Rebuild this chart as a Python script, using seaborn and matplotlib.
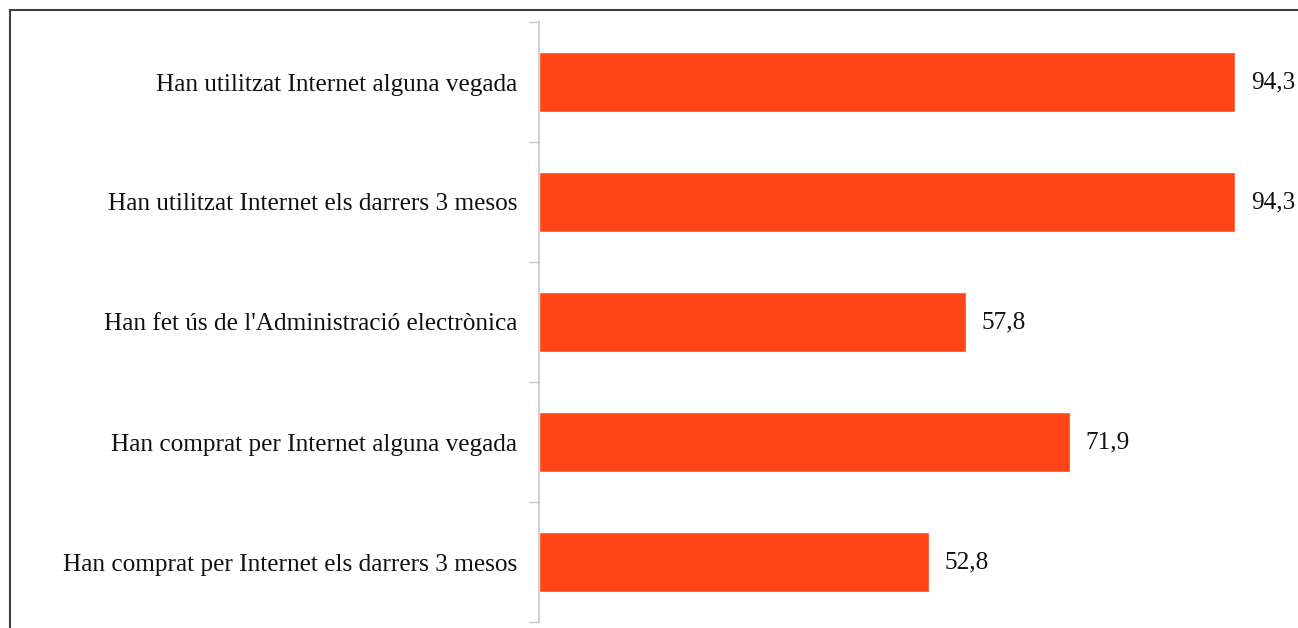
import matplotlib.pyplot as plt
import seaborn as sns
import pandas as pd
from matplotlib.patches import Rectangle

# data
categories = [
    "Han utilitzat Internet alguna vegada",
    "Han utilitzat Internet els darrers 3 mesos",
    "Han fet ús de l'Administració electrònica",
    "Han comprat per Internet alguna vegada",
    "Han comprat per Internet els darrers 3 mesos",
]
values = [94.3, 94.3, 57.8, 71.9, 52.8]
value_labels = ["94,3", "94,3", "57,8", "71,9", "52,8"]

df = pd.DataFrame({"cat": categories, "val": values})

sns.set_style("white")
plt.rcParams['font.family'] = ['Liberation Serif', 'DejaVu Serif']

fig = plt.figure(figsize=(12.98, 6.28), dpi=100)
ax = fig.add_axes([539 / 1298, 6 / 628, 738 / 1298, 600 / 628])

sns.barplot(data=df, x="val", y="cat", color="#FF4515", width=0.5,
            saturation=1, ax=ax)

ax.set_xlim(0, 100)
ax.set_ylim(len(categories) - 0.5, -0.5)
ax.set_xlabel("")
ax.set_ylabel("")
ax.set_xticks([])

# ticks at category boundaries, labels in the middle
ax.set_yticks([i - 0.5 for i in range(len(categories) + 1)], minor=False)
ax.set_yticklabels([])
ax.set_yticks(range(len(categories)), minor=True)
ax.set_yticklabels(categories, minor=True, fontsize=18.2, color="#111111")
ax.tick_params(axis="y", which="major", length=7, width=1, color="#c8c8c8", left=True)
ax.tick_params(axis="y", which="minor", length=0, pad=15.8)

for s in ["top", "right", "bottom"]:
    ax.spines[s].set_visible(False)
ax.spines["left"].set_color("#c8c8c8")
ax.spines["left"].set_linewidth(1.2)

for i, (v, lab) in enumerate(zip(values, value_labels)):
    ax.annotate(lab, xy=(v, i), xytext=(11.5, 0), textcoords="offset points",
                va="center", ha="left", fontsize=18.2, color="#111111")

# outer frame
fig.add_artist(Rectangle((10 / 1298, -0.1), 1.2, 1 - 10 / 628 + 0.1,
                         transform=fig.transFigure, fill=False,
                         edgecolor="#404040", linewidth=1.5))

fig.savefig("out.png", dpi=100)
